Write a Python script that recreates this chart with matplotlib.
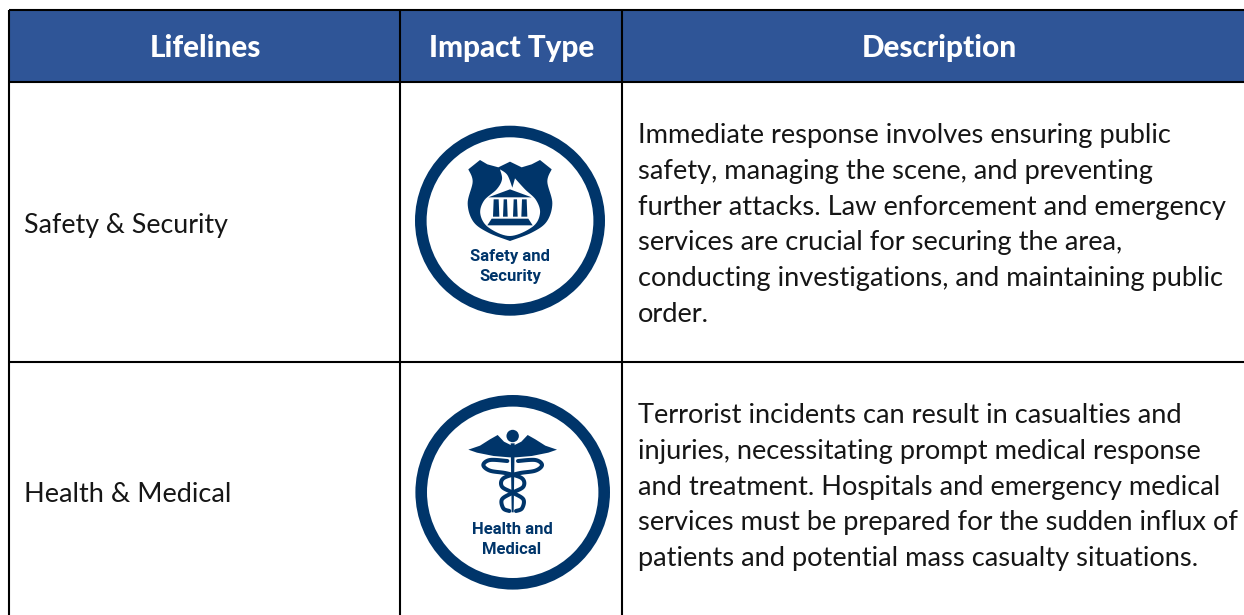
"""Lifelines table with two hand drawn icons, laid out in image pixels."""

from __future__ import annotations

import numpy as np
import matplotlib

matplotlib.use("Agg")
import matplotlib.pyplot as plt
from matplotlib.patches import Circle, Polygon, Rectangle

WIDTH, HEIGHT = 1244, 615
HEADER_BLUE = "#2F5597"
ICON_BLUE = "#00356A"
TEXT_COLOR = "#161616"
FONT = ["Lato", "DejaVu Sans"]
BODY_SIZE = 19.65

headers = ["Lifelines", "Impact Type", "Description"]
header_centers = [205, 511.5, 939.5]
lifelines = ["Safety & Security", "Health & Medical"]
icon_labels = [["Safety and", "Security"], ["Health and", "Medical"]]
descriptions = [
    [
        "Immediate response involves ensuring public",
        "safety, managing the scene, and preventing",
        "further attacks. Law enforcement and emergency",
        "services are crucial for securing the area,",
        "conducting investigations, and maintaining public",
        "order.",
    ],
    [
        "Terrorist incidents can result in casualties and",
        "injuries, necessitating prompt medical response",
        "and treatment. Hospitals and emergency medical",
        "services must be prepared for the sudden influx of",
        "patients and potential mass casualty situations.",
    ],
]

column_edges = [9, 400, 622, WIDTH + 5]
row_edges = [10, 81.5, 362, HEIGHT + 5]
first_baselines = [143, 423]
line_step = 35.8


def zoomed(points, origin):
    pts = np.asarray(points, dtype=float)
    return pts / 3.0 + origin


def smooth(points, steps=10):
    # Catmull-Rom through the traced points, ends are kept sharp
    pts = np.asarray(points, dtype=float)
    padded = np.vstack([pts[0], pts, pts[-1]])
    out = []
    for p0, p1, p2, p3 in zip(padded[:-3], padded[1:-2], padded[2:-1], padded[3:]):
        for t in np.linspace(0, 1, steps, endpoint=False):
            out.append(0.5 * (2 * p1 + (p2 - p0) * t + (2 * p0 - 5 * p1 + 4 * p2 - p3) * t ** 2
                              + (3 * p1 - p0 - 3 * p2 + p3) * t ** 3))
    out.append(pts[-1])
    return np.array(out)


def draw_ring(ax, center, radius):
    ax.add_patch(Circle(center, radius - 5.8, fill=False, ec=ICON_BLUE, lw=11.6 * 0.72))


def draw_shield(ax, origin):
    top = [(205, 178), (240, 150), (262, 163), (295, 172), (330, 155), (365, 172),
           (395, 163), (420, 150), (455, 178)]
    right = smooth([(455, 178), (442, 215), (457, 280), (440, 335), (395, 368), (330, 393)])
    left = smooth([(330, 393), (265, 368), (220, 335), (203, 280), (218, 215), (205, 178)])
    shield = np.vstack([np.array(top, dtype=float), right, left])
    flame_right = smooth([(300, 178), (322, 195), (337, 233)])
    flame_body = smooth([(345, 205), (375, 238), (408, 270), (420, 310), (398, 350), (330, 378),
                         (265, 352), (241, 312), (252, 272), (290, 238), (306, 208), (300, 178)])
    ax.add_patch(Polygon(zoomed(shield, origin), fc=ICON_BLUE, ec="none"))
    ax.add_patch(Polygon(zoomed(np.vstack([flame_right, flame_body]), origin), fc="white", ec="none"))
    ax.add_patch(Polygon(zoomed([(265, 262), (330, 238), (395, 262)], origin), fc=ICON_BLUE, ec="none"))
    for x0, x1 in [(279, 298), (309, 323), (339, 353), (364, 382)]:
        ax.add_patch(Polygon(zoomed([(x0 + 2, 268), (x1 - 2, 268), (x1, 320), (x0, 320)], origin),
                             fc=ICON_BLUE, ec="none"))
    ax.add_patch(Polygon(zoomed([(262, 346), (275, 326), (385, 326), (398, 346)], origin),
                         fc=ICON_BLUE, ec="none"))


def draw_caduceus(ax, origin):
    cx = 338
    wing = [(205, 209), (240, 197), (270, 178), (293, 165), (312, 185), (cx, 198)]
    wing += [(2 * cx - x, y) for x, y in reversed(wing[:-1])]
    wing += [(445, 218), (395, 228), (cx + 10, 232), (cx - 10, 232), (281, 228), (231, 218)]
    ax.add_patch(Polygon(zoomed(wing, origin), fc=ICON_BLUE, ec="none"))
    ax.add_patch(Circle(zoomed([(cx, 168)], origin)[0], 6.2, fc=ICON_BLUE, ec="none"))
    ax.add_patch(Polygon(zoomed([(cx - 6, 190), (cx + 6, 190), (cx + 3, 397), (cx - 3, 397)], origin),
                         fc=ICON_BLUE, ec="none"))
    snake = [(322, 243), (270, 240), (250, 255), (270, 272), (320, 280), (366, 295),
             (370, 320), (338, 338), (306, 358), (310, 385), (328, 393)]
    curve = smooth(snake)
    for xs in (curve[:, 0], 2 * cx - curve[:, 0]):
        line = zoomed(np.column_stack([xs, curve[:, 1]]), origin)
        ax.plot(line[:, 0], line[:, 1], color=ICON_BLUE, lw=2.9, solid_capstyle="round")


def draw_table(ax):
    for x0, x1, center, title in zip(column_edges[:-1], column_edges[1:], header_centers, headers):
        ax.add_patch(Rectangle((x0, row_edges[0]), x1 - x0, row_edges[1] - row_edges[0],
                               fc=HEADER_BLUE, ec="none"))
        ax.text(center, 57, title, color="white", fontsize=21.3, fontweight="black",
                family=FONT, ha="center", va="baseline")
    for x in column_edges[:-1]:
        ax.plot([x, x], [row_edges[0], HEIGHT + 5], color="black", lw=1.5, solid_capstyle="butt")
    for y in row_edges[:-1]:
        ax.plot([column_edges[0], WIDTH + 5], [y, y], color="black", lw=1.5, solid_capstyle="butt")

    for name, lines, base, mid, size in zip(lifelines, descriptions, first_baselines, [233, 502], [19.25, 19.5]):
        ax.text(24, mid, name, color=TEXT_COLOR, fontsize=size, family=FONT, ha="left", va="baseline")
        for i, line in enumerate(lines):
            ax.text(638, base + i * line_step, line, color=TEXT_COLOR, fontsize=BODY_SIZE,
                    family=FONT, ha="left", va="baseline")


def main() -> None:
    fig = plt.figure(figsize=(WIDTH / 100, HEIGHT / 100), dpi=100)
    ax = fig.add_axes([0, 0, 1, 1])
    ax.set_xlim(0, WIDTH)
    ax.set_ylim(HEIGHT, 0)
    ax.axis("off")

    draw_table(ax)

    draw_ring(ax, (510, 220.7), 95)
    draw_shield(ax, np.array([400, 110]))
    draw_ring(ax, (512.7, 492.3), 97.3)
    draw_caduceus(ax, np.array([400, 380]))

    label_spots = [(510, [257, 277]), (512, [529, 549])]
    for (x, ys), label in zip(label_spots, icon_labels):
        for y, line in zip(ys, label):
            ax.text(x, y, line, color=ICON_BLUE, fontsize=12.0, fontweight="bold",
                    family=["Roboto", "Liberation Sans"], ha="center", va="center")

    fig.savefig("out.png", dpi=100)


if __name__ == "__main__":
    main()
